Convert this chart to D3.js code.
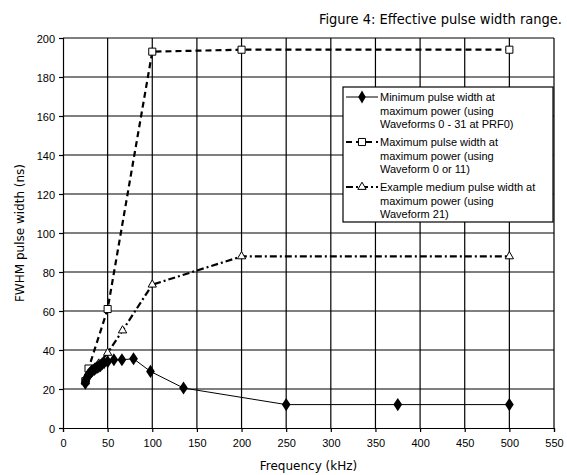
<!DOCTYPE html>
<html>
<head>
<meta charset="utf-8">
<script src="https://cdn.jsdelivr.net/npm/d3@7"></script>
<style>
  body { margin: 0; background: #fff; }
</style>
</head>
<body>
<svg id="chart" width="567" height="475"></svg>
<script>
/* data */
var minFreq  = [25, 25.5, 26, 27, 28, 29, 30, 31, 32, 33, 35, 36, 38, 40, 42, 44, 46, 50, 57, 66, 79, 98, 135, 250, 375, 500];
var minWidth = [23, 24, 25, 26, 27, 27.5, 28, 28.5, 29, 29.5, 30, 30.5, 31, 31.5, 32, 33, 33.5, 34, 35, 35, 35.5, 29, 20.5, 12, 12, 12];

var maxFreq  = [25, 28.6, 50, 100, 200, 500];
var maxWidth = [24, 30.5, 61, 193, 194, 194];

var exFreq  = [25, 30, 40, 50, 66.7, 100, 200, 500];
var exWidth = [24, 29, 33, 38.5, 50, 73.5, 88, 88];

var xTicks = [0, 50, 100, 150, 200, 250, 300, 350, 400, 450, 500, 550];
var yTicks = [0, 20, 40, 60, 80, 100, 120, 140, 160, 180, 200];

var legendLines = [
  ["Minimum pulse width at", "maximum power (using", "Waveforms 0 - 31 at PRF0)"],
  ["Maximum pulse width at", "maximum power (using", "Waveform 0 or 11)"],
  ["Example medium pulse width at", "maximum power (using", "Waveform 21)"]
];

var margin = { top: 38, right: 13, bottom: 47, left: 63 },
    width = 567, height = 475,
    innerWidth = width - margin.left - margin.right,
    innerHeight = height - margin.top - margin.bottom;

var svg = d3.select("#chart");

var xScale = d3.scaleLinear().domain([0, 550]).range([0, innerWidth]);
var yScale = d3.scaleLinear().domain([0, 200]).range([innerHeight, 0]);

var g = svg.append("g")
    .attr("transform", "translate(" + margin.left + "," + margin.top + ")");

/* gridlines */
g.selectAll(".vgrid").data(xTicks.slice(1))
  .enter().append("line")
    .attr("x1", function(d){ return xScale(d); })
    .attr("x2", function(d){ return xScale(d); })
    .attr("y1", 0).attr("y2", innerHeight)
    .attr("stroke", "#000").attr("stroke-width", 1.2);

g.selectAll(".hgrid").data(yTicks.slice(1))
  .enter().append("line")
    .attr("x1", 0).attr("x2", innerWidth)
    .attr("y1", function(d){ return yScale(d); })
    .attr("y2", function(d){ return yScale(d); })
    .attr("stroke", "#000").attr("stroke-width", 1.2);

/* axes */
var xAxis = d3.axisBottom(xScale).tickValues(xTicks).tickSize(4);
var yAxis = d3.axisLeft(yScale).tickValues(yTicks).tickSize(4);

var xAxisG = g.append("g").attr("class", "x-axis")
    .attr("transform", "translate(0," + innerHeight + ")")
    .call(xAxis);
var yAxisG = g.append("g").attr("class", "y-axis")
    .call(yAxis);
[xAxisG, yAxisG].forEach(function(a){
  a.attr("font-family", "'Liberation Sans', Arial, sans-serif").attr("font-size", 11);
  a.select(".domain").attr("stroke-width", 1.2);
  a.selectAll(".tick line").attr("stroke-width", 1.2);
});
xAxisG.selectAll(".tick text").attr("dy", null).attr("y", 19).attr("fill", "#000");
yAxisG.selectAll(".tick text").attr("dy", null).attr("y", 4).attr("x", -8).attr("fill", "#000");

/* series */
function pts(xs, ys){ return xs.map(function(v, i){ return [v, ys[i]]; }); }
var line = d3.line()
    .x(function(d){ return xScale(d[0]); })
    .y(function(d){ return yScale(d[1]); });

var exData = pts(exFreq, exWidth),
    maxData = pts(maxFreq, maxWidth),
    minData = pts(minFreq, minWidth);

g.append("path").datum(exData)
    .attr("d", line).attr("fill", "none").attr("stroke", "#000")
    .attr("stroke-width", 2.2).attr("stroke-dasharray", "7,3,2,3");
g.append("path").datum(maxData)
    .attr("d", line).attr("fill", "none").attr("stroke", "#000")
    .attr("stroke-width", 2.2).attr("stroke-dasharray", "6,4");
g.append("path").datum(minData)
    .attr("d", line).attr("fill", "none").attr("stroke", "#000")
    .attr("stroke-width", 1);

var triangle = d3.symbol().type(d3.symbolTriangle).size(30);
var square = d3.symbol().type(d3.symbolSquare).size(50);
var diamond = d3.symbol().type(d3.symbolDiamond).size(50);

g.selectAll(".tri").data(exData).enter().append("path")
    .attr("d", triangle)
    .attr("transform", function(d){ return "translate(" + xScale(d[0]) + "," + yScale(d[1]) + ")"; })
    .attr("fill", "#fff").attr("stroke", "#000").attr("stroke-width", 1);
g.selectAll(".sq").data(maxData).enter().append("path")
    .attr("d", square)
    .attr("transform", function(d){ return "translate(" + xScale(d[0]) + "," + yScale(d[1]) + ")"; })
    .attr("fill", "#fff").attr("stroke", "#000").attr("stroke-width", 1);
g.selectAll(".dia").data(minData).enter().append("path")
    .attr("d", diamond)
    .attr("transform", function(d){ return "translate(" + xScale(d[0]) + "," + yScale(d[1]) + ") scale(1.15,1)"; })
    .attr("fill", "#000");

/* legend */
var lg = svg.append("g").attr("transform", "translate(343,87)");
lg.append("rect").attr("width", 210).attr("height", 135)
    .attr("fill", "#fff").attr("stroke", "#000").attr("stroke-width", 1.2);

var legStyles = [
  { dash: null, sw: 1, sym: diamond, fill: "#000" },
  { dash: "6,4", sw: 2.2, sym: square, fill: "#fff" },
  { dash: "7,3,2,3", sw: 2.2, sym: triangle, fill: "#fff" }
];
legendLines.forEach(function(lines, i){
  var y0 = 10 + i * 45;
  var s = legStyles[i];
  lg.append("line").attr("x1", 3).attr("x2", 35).attr("y1", y0).attr("y2", y0)
    .attr("stroke", "#000").attr("stroke-width", s.sw)
    .attr("stroke-dasharray", s.dash);
  lg.append("path").attr("d", s.sym)
    .attr("transform", "translate(19," + y0 + ")")
    .attr("fill", s.fill).attr("stroke", s.fill === "#000" ? "none" : "#000");
  lines.forEach(function(t, j){
    lg.append("text")
      .attr("x", 37).attr("y", y0 + 4 + j * 13.5)
      .attr("font-family", "'Liberation Sans', Arial, sans-serif")
      .attr("font-size", 11)
      .text(t);
  });
});

/* titles */
svg.append("text")
    .attr("x", 562).attr("y", 24)
    .attr("text-anchor", "end")
    .attr("font-family", "'DejaVu Sans Condensed', 'DejaVu Sans', sans-serif")
    .attr("font-size", 14.5)
    .text("Figure 4: Effective pulse width range.");

svg.append("text")
    .attr("x", margin.left + innerWidth / 2).attr("y", 470)
    .attr("text-anchor", "middle")
    .attr("font-family", "'DejaVu Sans', Verdana, sans-serif")
    .attr("font-size", 12)
    .text("Frequency (kHz)");

svg.append("text")
    .attr("transform", "translate(24," + (margin.top + innerHeight / 2) + ") rotate(-90)")
    .attr("text-anchor", "middle")
    .attr("font-family", "'DejaVu Sans', Verdana, sans-serif")
    .attr("font-size", 12)
    .text("FWHM pulse width (ns)");
</script>
</body>
</html>
